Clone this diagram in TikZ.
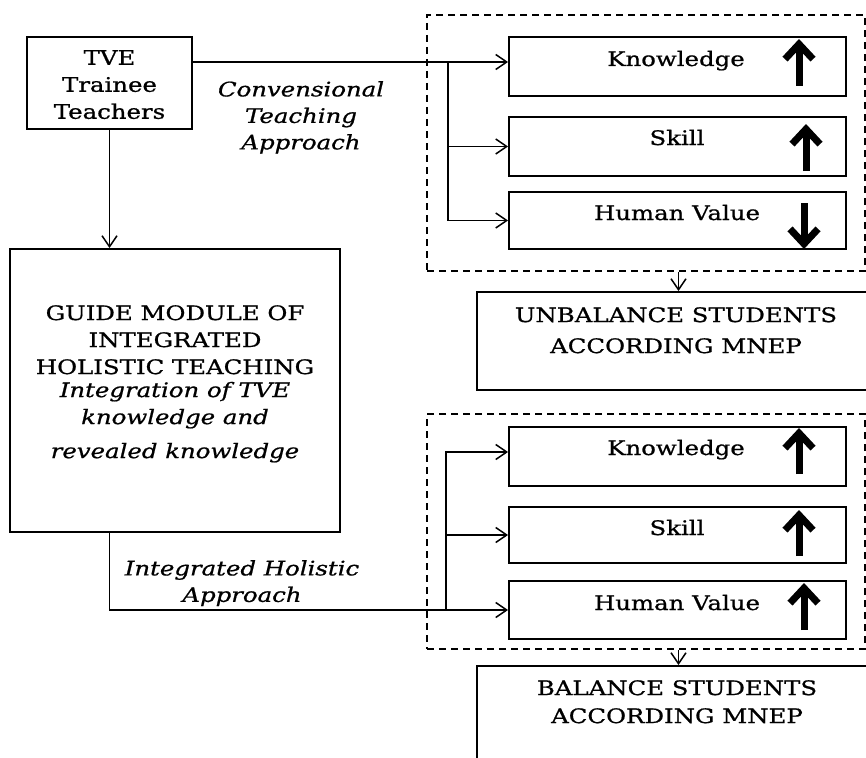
\documentclass[tikz,border=0pt]{standalone}
\usepackage{fontspec}
\setmainfont{DejaVu Serif}[FakeStretch=1.22,FakeBold=0.8]
\usetikzlibrary{arrows.meta}
\begin{document}
\begin{tikzpicture}[x=1pt,y=-1pt,
  box/.style={draw, line width=1.9pt, inner sep=0pt},
  grp/.style={draw, line width=1.4pt, dash pattern=on 7pt off 5pt, inner sep=0pt},
  conn/.style={line width=1.5pt, -{Straight Barb[length=11pt,width=15pt,line width=1.5pt]}},
  thk/.style={line width=7pt, -{Straight Barb[length=15pt,width=28pt,line width=7pt]}},
  txt/.style={font=\fontsize{20}{27}\selectfont, align=center, inner sep=0pt},
  itxt/.style={font=\fontsize{20}{26.5}\selectfont\itshape, align=center, inner sep=0pt},
]
\useasboundingbox (0,0) rectangle (866,757);
\clip (0,0) rectangle (866,757);
\fill[white] (0,0) rectangle (866,757);

% left column
\node[box, minimum width=165pt, minimum height=92pt] (tve) at (109.5,83) {};
\node[txt, anchor=north] (tvetxt) at (109.5,50) {TVE\\Trainee\\Teachers};
\node[box, minimum width=330pt, minimum height=283pt] (guide) at (175,390.5) {};
\node[txt, anchor=north] (guidetxt) at (175,305) {GUIDE MODULE OF\\INTEGRATED\\HOLISTIC TEACHING\\[-4pt]
  \itshape Integration of TVE\\\itshape knowledge and\\[7pt]\itshape revealed knowledge};

% labels on connectors
\node[itxt, anchor=north] (conv) at (301,81) {Convensional\\Teaching\\Approach};
\node[itxt, anchor=north] (ihol) at (242,560) {Integrated Holistic\\Approach};

% upper group
\node[grp, minimum width=438pt, minimum height=256pt] (grp1) at (646,143) {};
\node[box, minimum width=337pt, minimum height=59pt] (k1) at (677.5,66.5) {};
\node[box, minimum width=337pt, minimum height=59pt] (s1) at (677.5,146.5) {};
\node[box, minimum width=337pt, minimum height=57pt] (h1) at (677.5,220.5) {};
\node[txt, anchor=base] (k1t) at (676,66) {Knowledge};
\node[txt, anchor=base] (s1t) at (677,145) {Skill};
\node[txt, anchor=base] (h1t) at (677,220) {Human Value};
\draw[thk] (799,86) -- (799,39);
\draw[thk] (806,171) -- (806,124);
\draw[thk] (804,203) -- (804,249);
\node[box, minimum width=403pt, minimum height=98pt] (u1) at (678.5,341) {};
\node[txt, anchor=north, font=\fontsize{20}{31}\selectfont] (u1t) at (676,307) {UNBALANCE STUDENTS\\ACCORDING MNEP};

% lower group
\node[grp, minimum width=438pt, minimum height=235pt] (grp2) at (646,531.5) {};
\node[box, minimum width=337pt, minimum height=59pt] (k2) at (677.5,456.5) {};
\node[box, minimum width=337pt, minimum height=56pt] (s2) at (677.5,535) {};
\node[box, minimum width=337pt, minimum height=58pt] (h2) at (677.5,610) {};
\node[txt, anchor=base] (k2t) at (676,455) {Knowledge};
\node[txt, anchor=base] (s2t) at (677,535) {Skill};
\node[txt, anchor=base] (h2t) at (677,610) {Human Value};
\draw[thk] (799,474) -- (799,428);
\draw[thk] (799,556) -- (799,510);
\draw[thk] (804,630) -- (804,583);
\node[box, minimum width=403pt, minimum height=134pt] (b1) at (678.5,733) {};
\node[txt, anchor=north, font=\fontsize{20}{28}\selectfont] (b1t) at (677,680) {BALANCE STUDENTS\\ACCORDING MNEP};

% connectors
\coordinate (j1) at (448,62);
\coordinate (j2) at (446,610);
\draw[conn] (j1 -| tve.east) -- (j1 -| k1.west);
\draw[conn] (j1) |- (s1.west);
\draw[conn] (j1) |- (h1.west);
\draw[conn] (tve.south) -- (tve.south |- guide.north);
\draw[conn] (tve.south |- guide.south) |- (h2.west);
\draw[conn] (j2) |- ([yshift=4.5pt]k2.west);
\draw[conn] (j2) |- (s2.west);
\draw[conn] (u1.north |- grp1.south) -- (u1.north);
\draw[conn] (b1.north |- grp2.south) -- (b1.north);
\end{tikzpicture}
\end{document}
